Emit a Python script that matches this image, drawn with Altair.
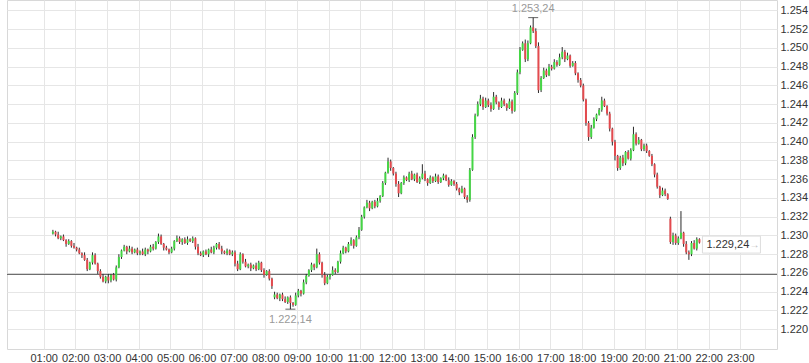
import altair as alt
import pandas as pd

# 5-minute candles, first one at 01:15
closes_h01 = [1.2304, 1.2301, 1.2297, 1.2299, 1.2295, 1.2291, 1.2294, 1.2289, 1.2287]
closes_h02 = [1.2285, 1.2281, 1.2279, 1.2274, 1.2264, 1.2271, 1.2279, 1.2270, 1.2262, 1.2256, 1.2251, 1.2256]
closes_h03 = [1.2252, 1.2258, 1.2253, 1.2266, 1.2277, 1.2284, 1.2288, 1.2283, 1.2286, 1.2282, 1.2285, 1.2281]
closes_h04 = [1.2283, 1.2280, 1.2285, 1.2283, 1.2288, 1.2286, 1.2293, 1.2299, 1.2291, 1.2287, 1.2285, 1.2282]
closes_h05 = [1.2286, 1.2294, 1.2297, 1.2293, 1.2296, 1.2292, 1.2296, 1.2294, 1.2297, 1.2288, 1.2281, 1.2279]
closes_h06 = [1.2283, 1.2280, 1.2285, 1.2282, 1.2287, 1.2291, 1.2286, 1.2283, 1.2281, 1.2284, 1.2280, 1.2282]
closes_h07 = [1.2270, 1.2264, 1.2280, 1.2272, 1.2267, 1.2269, 1.2265, 1.2268, 1.2264, 1.2271, 1.2263, 1.2258]
closes_h08 = [1.2262, 1.2254, 1.2246, 1.2237, 1.2233, 1.2237, 1.2232, 1.2229, 1.2234, 1.2228, 1.2226, 1.2236]
closes_h09 = [1.2241, 1.2238, 1.2250, 1.2257, 1.2263, 1.2269, 1.2266, 1.2280, 1.2271, 1.2258, 1.2249, 1.2256]
closes_h10 = [1.2258, 1.2263, 1.2261, 1.2272, 1.2281, 1.2287, 1.2283, 1.2291, 1.2295, 1.2289, 1.2298, 1.2306]
closes_h11 = [1.2320, 1.2330, 1.2335, 1.2329, 1.2336, 1.2331, 1.2337, 1.2342, 1.2356, 1.2367, 1.2379, 1.2372]
closes_h12 = [1.2366, 1.2355, 1.2345, 1.2356, 1.2362, 1.2359, 1.2366, 1.2360, 1.2365, 1.2357, 1.2361, 1.2366]
closes_h13 = [1.2360, 1.2356, 1.2362, 1.2358, 1.2363, 1.2357, 1.2361, 1.2364, 1.2359, 1.2354, 1.2358, 1.2355]
closes_h14 = [1.2350, 1.2346, 1.2350, 1.2341, 1.2338, 1.2370, 1.2405, 1.2428, 1.2440, 1.2446, 1.2437, 1.2444]
closes_h15 = [1.2439, 1.2435, 1.2448, 1.2442, 1.2437, 1.2444, 1.2440, 1.2436, 1.2443, 1.2433, 1.2452, 1.2474]
closes_h16 = [1.2498, 1.2505, 1.2488, 1.2505, 1.2522, 1.2518, 1.2502, 1.2455, 1.2468, 1.2476, 1.2471, 1.2480]
closes_h17 = [1.2478, 1.2485, 1.2482, 1.2490, 1.2496, 1.2488, 1.2492, 1.2481, 1.2484, 1.2473, 1.2466, 1.2460]
closes_h18 = [1.2445, 1.2420, 1.2405, 1.2415, 1.2424, 1.2429, 1.2434, 1.2444, 1.2438, 1.2430, 1.2414, 1.2400]
closes_h19 = [1.2385, 1.2372, 1.2383, 1.2377, 1.2389, 1.2382, 1.2391, 1.2408, 1.2398, 1.2402, 1.2392, 1.2396]
closes_h20 = [1.2390, 1.2385, 1.2376, 1.2365, 1.2352, 1.2343, 1.2348, 1.2344, 1.2339, 1.2293, 1.2300, 1.2292]
closes_h21 = [1.2297, 1.2303, 1.2291, 1.2282, 1.2280, 1.2292, 1.2286, 1.2296, 1.22924]

# wick lengths beyond the body, in pips
wick_hi_vals = [
    2, 1, 3, 1, 2, 1, 2, 1, 3,
    1, 2, 1, 3, 2, 1, 3, 2, 1, 2, 3, 1,
    3, 1, 2, 2, 3, 1, 2, 1, 3, 2, 1, 2,
    1, 3, 2, 1, 2, 3, 1, 3, 2, 1, 2, 1,
    2, 1, 3, 2, 1, 2, 3, 1, 2, 1, 3, 2,
    1, 2, 1, 3, 2, 1, 2, 3, 1, 2, 1, 2,
    2, 3, 2, 1, 3, 1, 2, 1, 3, 2, 1, 2,
    1, 2, 1, 3, 2, 1, 2, 3, 1, 2, 1, 3,
    2, 1, 3, 2, 1, 2, 1, 6, 2, 1, 3, 2,
    1, 4, 2, 1, 3, 2, 1, 2, 3, 1, 2, 3,
    2, 1, 3, 2, 1, 2, 3, 1, 2, 1, 4, 2,
    1, 2, 3, 1, 2, 1, 2, 3, 1, 2, 2, 10,
    3, 1, 2, 1, 3, 2, 1, 2, 1, 3, 2, 1,
    2, 1, 3, 1, 2, 2, 3, 2, 3, 4, 2, 3,
    2, 3, 5, 2, 1, 3, 2, 1, 3, 2, 2, 3,
    3, 2, 4, 3, 2, 10.4, 3, 4, 2, 3, 2, 3,
    2, 3, 2, 4, 5, 2, 3, 1, 2, 2, 1, 2,
    2, 1, 2, 3, 2, 1, 2, 4, 2, 1, 2, 1,
    2, 1, 2, 3, 1, 2, 2, 8, 2, 3, 1, 2,
    2, 1, 2, 1, 2, 1, 3, 2, 1, 2, 3, 2,
    2, 23, 1, 3, 2, 2, 3, 2, 1,
]
wick_lo_vals = [
    1, 2, 1, 2, 1, 3, 1, 2, 1,
    2, 1, 3, 1, 2, 1, 2, 1, 3, 2, 1, 2,
    3, 2, 1, 2, 1, 2, 1, 3, 1, 2, 1, 2,
    2, 1, 2, 3, 1, 2, 1, 2, 1, 3, 1, 2,
    1, 2, 1, 2, 3, 1, 2, 1, 2, 3, 2, 1,
    2, 1, 3, 1, 2, 2, 1, 3, 1, 2, 1, 2,
    3, 2, 1, 2, 1, 2, 3, 1, 2, 1, 2, 3,
    1, 2, 3, 2, 1, 3, 2, 1, 2, 6.6, 2, 1,
    2, 3, 1, 2, 1, 2, 3, 1, 2, 3, 2, 1,
    3, 1, 2, 1, 2, 1, 2, 1, 2, 3, 1, 2,
    1, 2, 1, 3, 1, 2, 1, 2, 1, 2, 1, 3,
    2, 3, 4, 1, 2, 1, 2, 1, 2, 1, 2, 1,
    2, 3, 1, 2, 1, 2, 1, 2, 1, 2, 1, 2,
    2, 3, 1, 2, 3, 2, 1, 2, 1, 2, 3, 1,
    2, 3, 1, 2, 3, 1, 2, 3, 1, 3, 1, 2,
    2, 1, 3, 2, 1, 2, 2, 3, 2, 1, 2, 1,
    2, 1, 2, 1, 2, 3, 1, 2, 1, 2, 3, 2,
    2, 3, 4, 2, 1, 2, 1, 2, 1, 2, 3, 4,
    5, 3, 2, 3, 2, 1, 2, 1, 2, 1, 2, 2,
    2, 1, 2, 3, 2, 3, 1, 2, 1, 2, 3, 2,
    2, 1, 3, 2, 6, 2, 1, 2, 1,
]

first_open = 1.2302
open_overrides = {"08:15": 1.2234, "20:45": 1.2318}
prev_close = 1.22585
y_ticks = [1.220, 1.222, 1.224, 1.226, 1.228, 1.230, 1.232, 1.234, 1.236, 1.238,
           1.240, 1.242, 1.244, 1.246, 1.248, 1.250, 1.252, 1.254]
hour_ticks = list(range(1, 24))
high_point = {"time": "16:25", "value": 1.25324, "label": "1.253,24"}
low_point = {"time": "08:45", "value": 1.22214, "label": "1.222,14"}
last_label = "1.229,24"

closes = (closes_h01 + closes_h02 + closes_h03 + closes_h04 + closes_h05 + closes_h06
          + closes_h07 + closes_h08 + closes_h09 + closes_h10 + closes_h11 + closes_h12
          + closes_h13 + closes_h14 + closes_h15 + closes_h16 + closes_h17 + closes_h18
          + closes_h19 + closes_h20 + closes_h21)

PIP = 0.0001
START_MIN = 75
rows = []
for i, c in enumerate(closes):
    m = START_MIN + 5 * i
    lab = f"{m // 60:02d}:{m % 60:02d}"
    o = first_open if i == 0 else closes[i - 1]
    o = open_overrides.get(lab, o)
    rows.append({
        "t": (m + 2.5) / 60.0,
        "open": o,
        "close": c,
        "high": max(o, c) + wick_hi_vals[i] * PIP,
        "low": min(o, c) - wick_lo_vals[i] * PIP,
        "col": "#45d645" if c >= o else "#e44a4e",
    })
df = pd.DataFrame(rows)


def to_hours(s):
    h, mm = s.split(":")
    return (int(h) * 60 + int(mm) + 2.5) / 60.0


ann = pd.DataFrame([
    {"t": to_hours(high_point["time"]), "v": high_point["value"], "label": high_point["label"], "kind": "high"},
    {"t": to_hours(low_point["time"]), "v": low_point["value"], "label": low_point["label"], "kind": "low"},
])
last_df = pd.DataFrame([{"t": df["t"].iloc[-1], "v": closes[-1], "label": last_label, "arrow": "→"}])

FONT = "Liberation Sans"
x_scale = alt.Scale(domain=[0, 24], nice=False, zero=False)
y_scale = alt.Scale(domain=[1.21789, 1.25512], nice=False, zero=False)

x_axis = alt.Axis(values=hour_ticks, labelExpr="(datum.value < 10 ? '0' : '') + datum.value + ':00'",
                  grid=True, gridColor="#e6e6e6", domain=False, ticks=False, labelFontSize=11,
                  labelColor="#333333", labelPadding=3, title=None, labelFont=FONT)
y_axis = alt.Axis(orient="right", values=y_ticks, format=".3f", grid=True, gridColor="#e6e6e6",
                  domain=False, ticks=False, labelFontSize=11, labelColor="#333333", labelPadding=3,
                  title=None, labelFont=FONT)


def X(field):
    return alt.X(field, scale=x_scale, axis=x_axis, title=None)


def Y(field):
    return alt.Y(field, scale=y_scale, axis=y_axis, title=None)


base = alt.Chart(df)

prev_line = alt.Chart(pd.DataFrame([{"v": prev_close}])).mark_rule(color="#5a5a5a", strokeWidth=1).encode(
    y=Y("v:Q")
)

wicks = base.mark_rule(color="#2a2a2a", strokeWidth=1).encode(
    x=X("t:Q"),
    y=Y("low:Q"),
    y2="high:Q",
)

bodies = base.mark_bar(size=2).encode(
    x=X("t:Q"),
    y=Y("open:Q"),
    y2="close:Q",
    color=alt.Color("col:N", scale=None, legend=None),
)

ann_ticks = alt.Chart(ann).mark_tick(orient="horizontal", size=10, thickness=1, color="#222222").encode(
    x=X("t:Q"),
    y=Y("v:Q"),
)
ann_high = alt.Chart(ann).transform_filter("datum.kind == 'high'").mark_text(
    font=FONT, fontSize=11, color="#9a9a9a", baseline="bottom", dy=-4
).encode(x=X("t:Q"), y=Y("v:Q"), text="label:N")
ann_low = alt.Chart(ann).transform_filter("datum.kind == 'low'").mark_text(
    font=FONT, fontSize=11, color="#9a9a9a", baseline="top", dy=5
).encode(x=X("t:Q"), y=Y("v:Q"), text="label:N")

last_box = alt.Chart(last_df).mark_rect(width=58, height=17, xOffset=32, yOffset=2, fill="white",
                                         stroke="#dddddd", strokeWidth=1).encode(
    x=X("t:Q"),
    y=Y("v:Q"),
)
last_text = alt.Chart(last_df).mark_text(font=FONT, fontSize=11, color="#333333", align="left",
                                         dx=7, dy=2).encode(
    x=X("t:Q"),
    y=Y("v:Q"),
    text="label:N",
)
last_arrow = alt.Chart(last_df).mark_text(font=FONT, fontSize=10, color="#bbbbbb", align="left",
                                          dx=50, dy=2).encode(
    x=X("t:Q"),
    y=Y("v:Q"),
    text="arrow:N",
)

chart = alt.layer(prev_line, wicks, bodies, ann_ticks, ann_high, ann_low,
                  last_box, last_text, last_arrow).properties(
    width=770, height=349,
    autosize=alt.AutoSizeParams(type="none"),
    padding={"left": 7, "top": 0, "right": 32, "bottom": 14},
    background="white",
).configure_view(stroke="#d8d8d8", strokeWidth=1)

chart.save("out.html", embed_options={"renderer": "svg", "actions": False})
